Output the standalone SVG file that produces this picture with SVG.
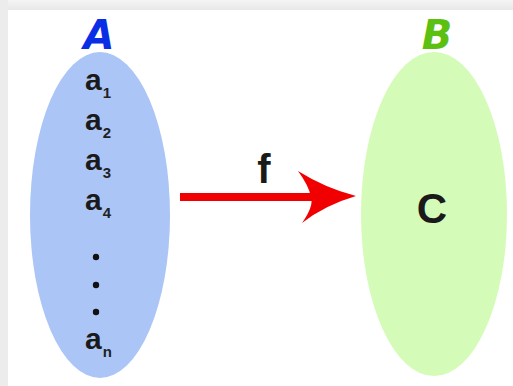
<svg xmlns="http://www.w3.org/2000/svg" width="513" height="386" viewBox="0 0 513 386">
<style>
.el{font-family:"Liberation Sans",Arial,sans-serif;font-weight:bold;fill:#1a1a1a}
.sub{font-family:"Liberation Sans",Arial,sans-serif;font-size:15px;fill:#222}
.set{font-family:"DejaVu Sans","Liberation Sans",sans-serif;font-weight:bold;font-style:italic;font-size:40px}
</style>
<defs>
<linearGradient id="topband" x1="0" y1="0" x2="0" y2="1">
<stop offset="0" stop-color="#f4f4f4"/><stop offset="1" stop-color="#e8e8e8"/>
</linearGradient>
</defs>
<rect width="513" height="386" fill="#ffffff"/>
<rect x="0" y="0" width="513" height="10" fill="url(#topband)"/>
<rect x="0" y="0" width="8" height="386" fill="#ececec"/>
<g id="setA">
<ellipse cx="100" cy="215" rx="70" ry="163" fill="#abc5f6"/>
<text class="set" x="99" y="49" text-anchor="middle" fill="#0a2ee6">A</text>
<text class="el" x="85" y="90" font-size="30">a<tspan class="sub" dx="1" dy="8">1</tspan></text>
<text class="el" x="85" y="130" font-size="30">a<tspan class="sub" dx="1" dy="8">2</tspan></text>
<text class="el" x="85" y="170" font-size="30">a<tspan class="sub" dx="1" dy="8">3</tspan></text>
<text class="el" x="85" y="210" font-size="30">a<tspan class="sub" dx="1" dy="8">4</tspan></text>
<circle cx="96" cy="257" r="3.2" fill="#111"/>
<circle cx="96" cy="285" r="3.2" fill="#111"/>
<circle cx="96" cy="312" r="3.2" fill="#111"/>
<text class="el" x="85" y="349" font-size="30">a<tspan class="sub" dx="1" dy="8">n</tspan></text>
</g>
<g id="setB">
<ellipse cx="434" cy="214" rx="73" ry="162" fill="#d5fbb8"/>
<text class="set" x="437" y="49" text-anchor="middle" fill="#5cc010">B</text>
<text class="el" x="432" y="223" font-size="42" text-anchor="middle" fill="#111">C</text>
</g>
<g id="connectors">
<line x1="180" y1="197" x2="312" y2="197" stroke="#f00000" stroke-width="8"/>
<path d="M298 171 Q325 188 356 196 Q325 205 302 223 Q314 206 311 197 Q309 186 298 171 Z" fill="#f00000"/>
<text class="el" x="264" y="183" font-size="40" text-anchor="middle" fill="#111">f</text>
</g>
</svg>
